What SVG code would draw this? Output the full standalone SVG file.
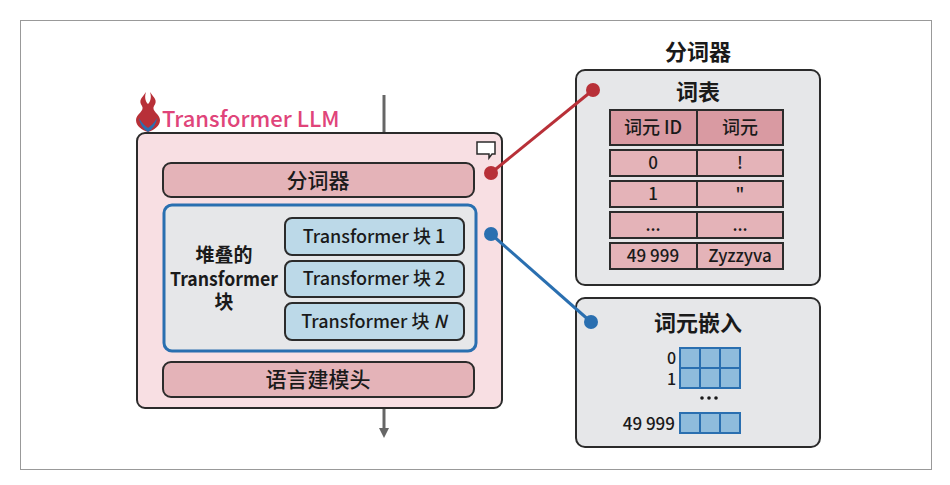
<svg xmlns="http://www.w3.org/2000/svg" width="950" height="485" viewBox="0 0 950 485">
<style>
text{font-family:"Noto Sans CJK SC","Noto Sans",sans-serif;fill:#1a1a1a;text-anchor:middle;font-weight:500}
.b{stroke:#2b2b2b;stroke-width:2}
.cell{fill:#e4b3b8;stroke:#2b2b2b;stroke-width:2}
.m{fill:#8fbcdc;stroke:#2a6fb0;stroke-width:2}
</style>
<defs><marker id="ah" markerWidth="10" markerHeight="10" refX="5" refY="5" orient="auto" markerUnits="userSpaceOnUse"><path d="M0,0L10,5L0,10z" fill="#666"/></marker></defs>
<rect x="0" y="0" width="950" height="485" fill="#fff"/>
<rect x="20.5" y="20.5" width="911" height="449" fill="none" stroke="#999" stroke-width="1"/>
<line x1="384" y1="95" x2="384" y2="133" stroke="#666" stroke-width="3"/>
<line x1="384" y1="408" x2="384" y2="433" stroke="#666" stroke-width="3" marker-end="url(#ah)"/>
<g id="llm">
<path d="M146,92c-4,6 -8,8 -4,14 3,5 -6,8 -6,14 0,6 6,10 12,12 6,-2 12,-6 12,-12 0,-6 -9,-9 -6,-14 4,-6 0,-8 -4,-14 2,6 0,10 -2,12 -2,-2 -4,-6 -2,-12z" fill="#b83038"/>
<path d="M139,118c3,5 6,8 9,10c3,-2 6,-5 9,-10c-1,6 -4,11 -9,14c-5,-3 -8,-8 -9,-14z" fill="#2a6fb0"/>
<text x="162" y="127" font-size="22" style="fill:#e0447a;text-anchor:start">Transformer LLM</text>
<rect x="137" y="133" width="365" height="275" rx="8" fill="#f8dfe3" class="b"/>
<path d="M477,142h18v12h-3l-3,4v-4h-12z" fill="#fff" stroke="#2b2b2b" stroke-width="1.5"/>
</g>
<g id="tok"><rect x="163" y="163" width="311" height="34" rx="8" fill="#e4b3b8" class="b"/><text x="318" y="188" font-size="21">分词器</text></g>
<g id="stack">
<rect x="164" y="205" width="312" height="146" rx="8" fill="#e6e7e9" stroke="#2a6fb0" stroke-width="3"/>
<text x="224" y="262" font-size="19" style="font-weight:bold">堆叠的</text>
<text x="224" y="286" font-size="19" style="font-weight:bold" textLength="108" lengthAdjust="spacingAndGlyphs">Transformer</text>
<text x="224" y="309" font-size="19" style="font-weight:bold">块</text>
</g>
<g id="b1"><rect x="285" y="218" width="179" height="37" rx="7" fill="#bcd9e8" class="b"/><text x="374" y="243" font-size="18">Transformer 块 1</text></g>
<g id="b2"><rect x="285" y="261" width="179" height="36" rx="7" fill="#bcd9e8" class="b"/><text x="374" y="285" font-size="18">Transformer 块 2</text></g>
<g id="bn"><rect x="285" y="303" width="179" height="37" rx="7" fill="#bcd9e8" class="b"/><text x="374" y="328" font-size="18">Transformer 块 <tspan font-style="italic">N</tspan></text></g>
<g id="head"><rect x="163" y="362" width="311" height="35" rx="8" fill="#e4b3b8" class="b"/><text x="318" y="387" font-size="21">语言建模头</text></g>
<g id="tokenizer">
<text x="698" y="60" font-size="22" style="font-weight:bold">分词器</text>
<rect x="576" y="70" width="244" height="215" rx="9" fill="#e6e7e9" class="b"/>
<text x="698" y="100" font-size="22" style="font-weight:bold">词表</text>
<rect x="610" y="110" width="87" height="35" fill="#d99aa2" class="b"/><rect x="697" y="110" width="86" height="35" fill="#d99aa2" class="b"/>
<text x="653" y="134" font-size="18">词元 ID</text><text x="740" y="134" font-size="18">词元</text>
<rect class="cell" x="610" y="150" width="87" height="26"/><rect class="cell" x="697" y="150" width="86" height="26"/>
<rect class="cell" x="610" y="181" width="87" height="26"/><rect class="cell" x="697" y="181" width="86" height="26"/>
<rect class="cell" x="610" y="212" width="87" height="26"/><rect class="cell" x="697" y="212" width="86" height="26"/>
<rect class="cell" x="610" y="243" width="87" height="26"/><rect class="cell" x="697" y="243" width="86" height="26"/>
<g font-size="17"><text x="653" y="169">0</text><text x="740" y="169">!</text>
<text x="653" y="200">1</text><text x="740" y="200">"</text>
<text x="653" y="231">...</text><text x="740" y="231">...</text>
<text x="653" y="262">49 999</text><text x="740" y="262">Zyzzyva</text></g>
</g>
<g id="embed">
<rect x="576" y="298" width="244" height="149" rx="9" fill="#e6e7e9" class="b"/>
<text x="698" y="331" font-size="22" style="font-weight:bold">词元嵌入</text>
<rect class="m" x="680" y="348" width="20" height="20"/><rect class="m" x="700" y="348" width="20" height="20"/><rect class="m" x="720" y="348" width="20" height="20"/>
<rect class="m" x="680" y="368" width="20" height="20"/><rect class="m" x="700" y="368" width="20" height="20"/><rect class="m" x="720" y="368" width="20" height="20"/>
<rect class="m" x="680" y="413" width="20" height="20"/><rect class="m" x="700" y="413" width="20" height="20"/><rect class="m" x="720" y="413" width="20" height="20"/>
<text x="676" y="364" font-size="16" style="text-anchor:end">0</text><text x="676" y="385" font-size="16" style="text-anchor:end">1</text><text x="675" y="430" font-size="17" style="text-anchor:end">49 999</text>
<circle cx="702" cy="398" r="1.8" fill="#1a1a1a"/><circle cx="709" cy="398" r="1.8" fill="#1a1a1a"/><circle cx="716" cy="398" r="1.8" fill="#1a1a1a"/>
</g>
<g id="connectors">
<line x1="491" y1="173" x2="593" y2="90" stroke="#b83038" stroke-width="3"/>
<circle cx="491" cy="173" r="7" fill="#b83038"/><circle cx="593" cy="90" r="7" fill="#b83038"/>
<line x1="491" y1="234" x2="591" y2="322" stroke="#2a6fb0" stroke-width="3"/>
<circle cx="491" cy="234" r="7" fill="#2a6fb0"/><circle cx="591" cy="322" r="7" fill="#2a6fb0"/>
</g>
</svg>
